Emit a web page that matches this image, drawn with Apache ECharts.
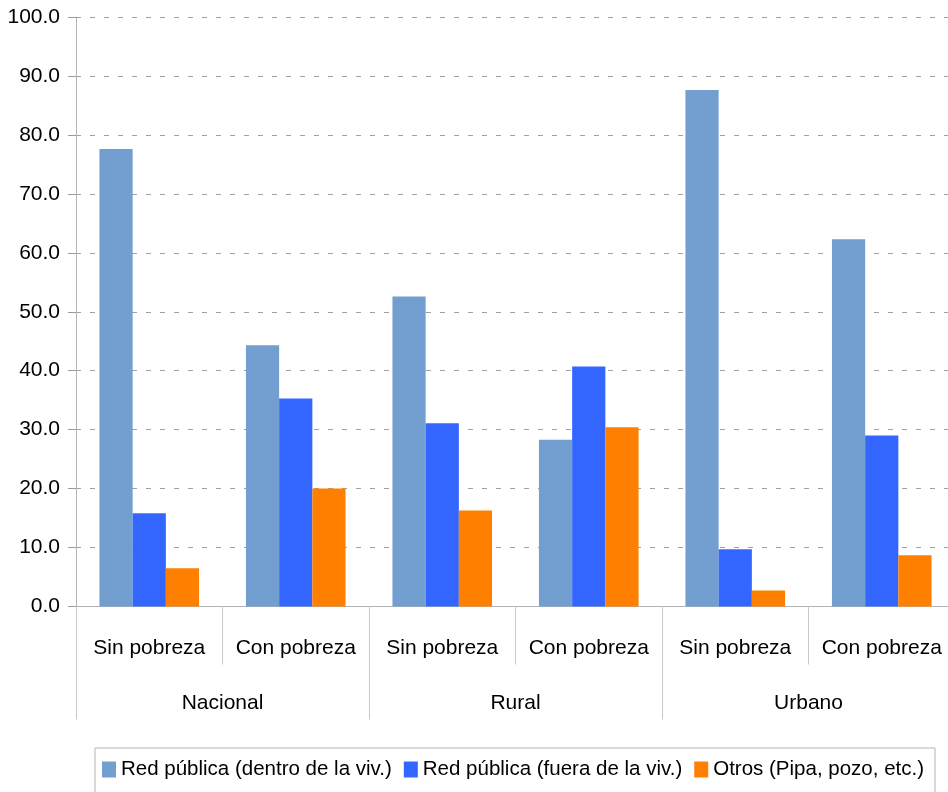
<!DOCTYPE html>
<html>
<head>
<meta charset="utf-8">
<script src="https://cdn.jsdelivr.net/npm/echarts@6/dist/echarts.min.js"></script>
<style>html,body{margin:0;padding:0;background:#fff;}#c{width:948px;height:792px;}</style>
</head>
<body>
<div id="c"></div>
<script>
const subCategories = ['Sin pobreza','Con pobreza','Sin pobreza','Con pobreza','Sin pobreza','Con pobreza'];
const groups = ['Nacional','Rural','Urbano'];
const seriesNames = ['Red pública (dentro de la viv.)','Red pública (fuera de la viv.)','Otros (Pipa, pozo, etc.)'];
const dentro = [77.6, 44.3, 52.6, 28.3, 87.6, 62.3];
const fuera = [15.8, 35.3, 31.1, 40.7, 9.7, 29.0];
const otros = [6.5, 20.0, 16.3, 30.4, 2.7, 8.7];
const colors = ['#729fcf','#3366ff','#ff8000'];

const FONT = "'Liberation Sans',Arial,sans-serif";
const chart = echarts.init(document.getElementById('c'), null, {renderer:'canvas'});
const values = [dentro, fuera, otros];
chart.setOption({
  animation:false,
  color: colors,
  textStyle:{fontFamily:FONT},
  grid:{left:76, top:17, width:879, height:589.5, containLabel:false, outerBoundsMode:'none'},
  legend:{
    left:95, top:748, width:900,
    data: seriesNames,
    icon:'rect', itemWidth:14, itemHeight:16, itemGap:12,
    padding:[11,11,30,7],
    borderColor:'#b3b3b3', borderWidth:1,
    textStyle:{fontFamily:FONT, fontSize:20.5, color:'#000'}
  },
  xAxis:[{
    type:'category', data: subCategories, position:'bottom',
    axisLine:{show:true, lineStyle:{color:'#b3b3b3', width:1}},
    axisTick:{show:true, alignWithLabel:false, length:58, lineStyle:{color:'#c8c8c8'}},
    axisLabel:{fontFamily:FONT, fontSize:21, color:'#000', margin:31, interval:0}
  },{
    type:'category', data: groups, position:'bottom', gridIndex:0,
    axisLine:{show:false},
    axisTick:{show:true, length:113, lineStyle:{color:'#c8c8c8'}},
    axisLabel:{fontFamily:FONT, fontSize:21, color:'#000', margin:86, interval:0}
  }],
  yAxis:{
    type:'value', min:0, max:100, interval:10,
    axisLine:{show:true, lineStyle:{color:'#b3b3b3'}},
    axisTick:{show:true, length:8, lineStyle:{color:'#999'}},
    axisLabel:{fontFamily:FONT, fontSize:21, color:'#000', margin:16, formatter:v=>v.toFixed(1)},
    splitLine:{show:true, lineStyle:{color:'#a0a0a0', type:[5,9], width:1}}
  },
  series: seriesNames.map((n,i)=>({
    name:n, type:'bar', xAxisIndex:0, data: values[i],
    barGap:'0%', barCategoryGap:'32%',
    itemStyle:{color:colors[i]}
  }))
});
</script>
</body>
</html>
